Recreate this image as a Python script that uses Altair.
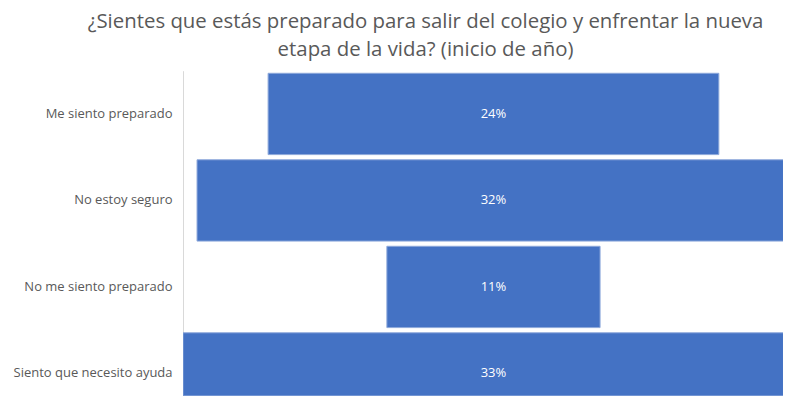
import altair as alt
import pandas as pd

categories = ["Me siento preparado", "No estoy seguro", "No me siento preparado", "Siento que necesito ayuda"]
values = [24.1, 31.7, 11.4, 33.2]
labels = ["24%", "32%", "11%", "33%"]

df = pd.DataFrame({"cat": categories, "v": values, "lab": labels})

FONT = "Open Sans"
half = max(values) / 2
right_edge = 15.48

base = alt.Chart(df).transform_calculate(
    x1="-datum.v/2", x2="datum.v/2", mid="0"
)

yscale = alt.Scale(paddingInner=0.06, paddingOuter=0.03, range=[0, 346])

y_enc = alt.Y(
    "cat:N",
    sort=categories,
    scale=yscale,
    axis=alt.Axis(
        title=None, ticks=False, grid=False, domainColor="#d9d9d9", domainWidth=1,
        labelFont=FONT, labelFontSize=13, labelColor="#595959", labelPadding=11,
        labelLimit=300,
    ),
)

bars = base.mark_bar(color="#4472C4", stroke="#8EA9DB", strokeWidth=1, clip=True).encode(
    x=alt.X("x1:Q", scale=alt.Scale(domain=[-half, right_edge], nice=False, zero=False), axis=None),
    x2="x2:Q",
    y=y_enc,
)

text = base.mark_text(font=FONT, fontSize=13, color="white").encode(
    x=alt.X("mid:Q"),
    y=alt.Y("cat:N", sort=categories),
    text="lab:N",
)

chart = alt.layer(bars, text).properties(
    width=600,
    height=325,
    autosize=alt.AutoSizeParams(type="none"),
    padding={"left": 175, "top": 62.7, "right": 0, "bottom": 0},
    title=alt.TitleParams(
        text=["¿Sientes que estás preparado para salir del colegio y enfrentar la nueva",
              "etapa de la vida? (inicio de año)"],
        font=FONT, fontSize=20.4, fontWeight="normal", color="#595959",
        anchor="middle", align="center", frame="group", dx=-57.5, lineHeight=28, offset=10,
    ),
).configure_view(stroke=None)

chart.save("out.html", embed_options={"renderer": "svg", "actions": False})
